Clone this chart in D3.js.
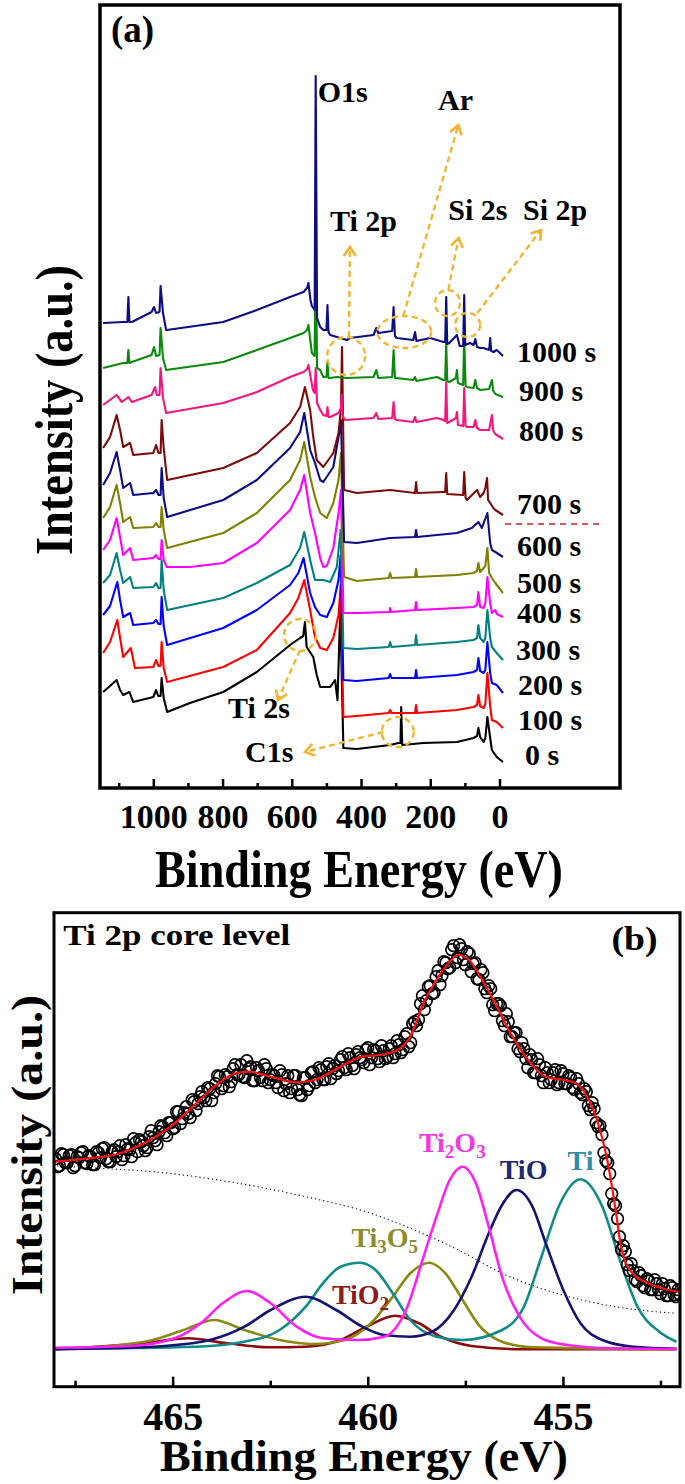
<!DOCTYPE html>
<html><head><meta charset="utf-8">
<script src="https://cdn.jsdelivr.net/npm/d3@7"></script>
<style>
body{margin:0;background:#fff}
text{font-family:"Liberation Serif","Times New Roman",Times,serif;font-weight:bold}
</style>
</head><body>
<svg id="c" width="685" height="1484"></svg>
<script>
// ================= DATA: panel (a) survey spectra, [binding energy eV, intensity a.u.] =================
const surveyTicksMajor = [1000, 800, 600, 400, 200, 0];
const surveyTicksMinor = [1100, 900, 700, 500, 300, 100];
const surveyLabels = ["0 s","100 s","200 s","300 s","400 s","500 s","600 s","700 s","800 s","900 s","1000 s"];

const spec0s = [[1145,96],[1125,102],[1106,108],[1096,98],[1087,93],[1069,96],[1058,86],[1000,91],[992,98],[986,92],[979,92],[976,110],[970,90],[960,76],[894,85],[798,96],[701,116],[605,143],[576,150],[567,152],[562,166],[557,141],[538,131],[528,113],[518,101],[489,101],[475,108],[468,88],[460,178],[451,40],[412,39],[316,43],[292,45],[286,45],[284,81],[281,43],[220,45],[123,46],[75,50],[65,52],[61,60],[56,51],[46,46],[41,50],[35,71],[27,50],[22,38],[8,31],[-10,26]];
const spec100s = [[1145,135],[1125,146],[1104,168],[1096,150],[1087,131],[1065,140],[1053,120],[1000,121],[992,128],[985,122],[979,122],[976,146],[970,120],[960,106],[798,121],[701,138],[605,175],[581,190],[564,208],[547,178],[533,151],[518,140],[499,138],[480,150],[465,173],[459,203],[451,71],[412,72],[320,75],[316,78],[312,75],[244,75],[241,83],[238,75],[123,78],[75,81],[65,83],[61,93],[56,82],[46,80],[41,84],[35,115],[27,82],[22,68],[8,66],[-10,60]];
const spec200s = [[1145,173],[1125,182],[1104,206],[1096,188],[1087,171],[1067,175],[1058,163],[1000,165],[992,168],[985,164],[979,164],[976,191],[970,162],[960,143],[798,160],[701,178],[605,203],[581,215],[566,230],[547,195],[533,181],[518,173],[499,171],[480,185],[465,208],[459,233],[451,108],[412,107],[320,110],[316,114],[312,110],[244,110],[241,118],[238,110],[123,113],[75,116],[65,118],[61,130],[56,117],[46,115],[41,118],[35,146],[27,115],[22,105],[8,103],[-10,95]];
const spec300s = [[1145,205],[1125,213],[1106,235],[1096,218],[1087,205],[1067,211],[1058,200],[1000,201],[992,205],[985,200],[979,200],[976,228],[970,198],[960,178],[798,190],[701,205],[605,223],[576,240],[564,256],[547,228],[533,208],[509,208],[489,206],[470,221],[459,258],[451,140],[412,139],[320,141],[316,146],[312,141],[244,143],[241,153],[238,143],[123,146],[75,148],[65,150],[61,163],[56,150],[46,146],[41,150],[35,178],[27,150],[22,141],[8,135],[-10,128]];
const spec400s = [[1145,238],[1125,248],[1106,270],[1096,251],[1087,233],[1067,240],[1058,228],[1000,230],[992,233],[985,229],[979,229],[976,248],[970,228],[961,221],[894,221],[798,225],[701,245],[605,278],[576,298],[564,313],[547,275],[533,255],[518,230],[509,221],[499,222],[480,240],[465,275],[458,298],[451,175],[412,175],[318,176],[316,180],[313,176],[244,178],[241,186],[238,178],[123,180],[75,181],[65,183],[61,196],[56,181],[46,180],[41,185],[35,211],[27,185],[22,175],[12,178],[8,174],[-10,171]];
const spec500s = [[1145,270],[1125,281],[1106,303],[1096,285],[1087,266],[1067,271],[1058,260],[1000,261],[992,265],[985,261],[979,261],[976,281],[970,258],[960,240],[798,255],[701,275],[605,308],[576,328],[564,346],[547,311],[533,291],[518,275],[499,270],[480,285],[465,308],[458,335],[449,211],[412,207],[320,210],[316,215],[312,210],[244,211],[241,219],[238,211],[123,213],[75,215],[65,217],[61,225],[56,216],[41,222],[35,240],[30,215],[22,210],[12,205],[-10,195]];
const spec600s = [[1145,303],[1125,315],[1106,336],[1096,318],[1087,300],[1067,305],[1058,293],[1000,295],[992,298],[985,293],[979,293],[976,320],[970,290],[960,271],[798,288],[701,308],[605,340],[576,356],[564,375],[547,338],[533,325],[518,308],[509,306],[480,321],[465,351],[458,368],[449,246],[412,245],[316,250],[244,251],[241,258],[238,251],[123,255],[80,260],[61,266],[51,260],[35,275],[27,245],[22,238],[12,236],[-10,231]];
const spec700s = [[1145,340],[1125,351],[1106,373],[1096,358],[1087,341],[1067,345],[1058,333],[1000,335],[992,343],[985,335],[979,335],[976,368],[970,340],[960,308],[798,320],[701,335],[605,365],[576,381],[562,401],[547,378],[538,351],[528,328],[509,321],[480,335],[465,355],[458,380],[455,441],[449,298],[412,295],[316,298],[244,295],[241,306],[238,295],[162,296],[157,296],[154,315],[151,294],[105,293],[102,316],[98,290],[94,288],[65,298],[56,291],[46,295],[41,300],[36,310],[33,288],[27,285],[18,280],[12,278],[-10,273]];
const spec800s = [[1145,383],[1106,393],[1091,386],[1072,391],[1062,386],[1005,393],[995,401],[990,393],[982,393],[979,420],[972,390],[963,375],[798,385],[701,396],[605,411],[566,416],[556,419],[552,423],[539,398],[534,395],[531,420],[527,385],[518,378],[509,373],[500,372],[497,381],[494,371],[489,371],[465,375],[458,380],[456,393],[453,372],[446,368],[364,370],[356,375],[350,369],[310,370],[306,386],[302,369],[297,368],[249,366],[244,371],[240,366],[181,370],[162,368],[157,367],[154,406],[151,365],[145,366],[126,370],[123,376],[120,363],[105,362],[102,400],[98,362],[94,361],[75,361],[70,368],[65,360],[56,358],[30,358],[22,373],[18,357],[12,354],[-10,349]];
const spec900s = [[1145,420],[1087,425],[1075,425],[1072,438],[1069,425],[1062,426],[1005,433],[998,441],[992,432],[982,433],[979,460],[972,430],[963,418],[798,426],[701,438],[605,450],[566,455],[556,458],[552,463],[542,435],[534,432],[531,548],[527,420],[518,418],[509,411],[500,411],[497,426],[494,410],[489,410],[470,411],[441,410],[364,411],[356,418],[350,410],[310,411],[306,438],[302,410],[299,410],[249,408],[244,411],[240,407],[181,411],[162,408],[157,408],[154,446],[151,407],[145,406],[126,410],[123,418],[120,405],[105,403],[102,451],[98,402],[94,401],[75,400],[70,408],[65,400],[56,398],[30,399],[22,408],[18,397],[12,394],[-10,391]];
const spec1000s = [[1145,465],[1087,466],[1075,466],[1072,491],[1069,466],[1062,466],[1005,476],[998,481],[992,475],[982,476],[979,502],[972,475],[963,458],[961,458],[798,466],[701,478],[605,491],[566,496],[556,500],[552,505],[546,488],[542,482],[534,478],[531,712],[527,470],[518,461],[509,458],[500,458],[497,483],[494,456],[489,453],[441,448],[432,450],[364,453],[356,460],[350,455],[310,457],[306,481],[302,452],[297,450],[249,448],[244,456],[240,447],[200,450],[162,446],[157,446],[154,491],[151,444],[145,445],[123,453],[115,442],[105,442],[102,493],[99,443],[85,445],[75,443],[70,449],[65,441],[56,440],[46,440],[30,438],[27,450],[24,437],[17,436],[8,438],[-10,432]];

// ================= DATA: panel (b) Ti 2p core level =================
const coreTicksMajor = [465, 460, 455];
const coreTicksMinor = [467.5, 462.5, 457.5, 452.5];
const ti2pMeasured = [[468.0,228],[467.9,221],[467.8,232],[467.7,224],[467.6,232],[467.5,221],[467.4,229],[467.3,235],[467.2,223],[467.1,230],[467.0,222],[466.9,234],[466.8,238],[466.7,228],[466.6,225],[466.5,237],[466.4,235],[466.3,227],[466.2,242],[466.1,237],[466.0,248],[465.9,235],[465.8,245],[465.7,236],[465.6,250],[465.5,249],[465.4,242],[465.3,261],[465.2,254],[465.1,264],[465.0,258],[464.9,275],[464.8,263],[464.7,274],[464.6,273],[464.5,287],[464.4,276],[464.3,290],[464.2,289],[464.1,299],[464.0,286],[463.9,303],[463.8,310],[463.7,301],[463.6,310],[463.5,305],[463.4,322],[463.3,312],[463.2,310],[463.1,326],[463.0,320],[462.9,306],[462.8,316],[462.7,306],[462.6,318],[462.5,307],[462.4,311],[462.3,299],[462.2,312],[462.1,303],[462.0,294],[461.9,311],[461.8,297],[461.7,291],[461.6,309],[461.5,301],[461.4,315],[461.3,307],[461.2,317],[461.1,307],[461.0,323],[460.9,318],[460.8,313],[460.7,327],[460.6,319],[460.5,333],[460.4,321],[460.3,332],[460.2,329],[460.1,324],[460.0,339],[459.9,329],[459.8,336],[459.7,325],[459.6,336],[459.5,330],[459.4,341],[459.3,333],[459.2,342],[459.1,337],[459.0,353],[458.9,344],[458.8,365],[458.7,367],[458.6,391],[458.5,386],[458.4,401],[458.3,394],[458.2,416],[458.1,411],[458.0,424],[457.9,419],[457.8,441],[457.7,429],[457.6,438],[457.5,422],[457.4,433],[457.3,423],[457.2,408],[457.1,417],[457.0,398],[456.9,401],[456.8,382],[456.7,383],[456.6,381],[456.5,361],[456.4,365],[456.3,350],[456.2,354],[456.1,335],[456.0,338],[455.9,319],[455.8,327],[455.7,314],[455.6,322],[455.5,304],[455.4,314],[455.3,307],[455.2,317],[455.1,304],[455.0,313],[454.9,303],[454.8,309],[454.7,297],[454.6,303],[454.5,292],[454.4,295],[454.3,277],[454.2,278],[454.1,260],[454.0,252],[453.9,226],[453.8,213],[453.7,183],[453.6,168],[453.5,137],[453.4,135],[453.3,116],[453.2,116],[453.1,105],[453.0,111],[452.9,99],[452.8,106],[452.7,97],[452.6,103],[452.5,93],[452.4,98],[452.3,91],[452.2,99],[452.1,90],[452.0,92]];
const ti2pMeasuredHalfSteps = [[467.95,220],[467.85,233],[467.75,224],[467.65,231],[467.55,219],[467.45,230],[467.35,234],[467.25,224],[467.15,231],[467.05,222],[466.95,235],[466.85,229],[466.75,239],[466.65,225],[466.55,235],[466.45,230],[466.35,241],[466.25,231],[466.15,238],[466.05,230],[465.95,244],[465.85,247],[465.75,241],[465.65,239],[465.55,256],[465.45,246],[465.35,255],[465.25,260],[465.15,251],[465.05,264],[464.95,259],[464.85,275],[464.75,268],[464.65,280],[464.55,269],[464.45,285],[464.35,283],[464.25,295],[464.15,286],[464.05,298],[463.95,294],[463.85,311],[463.75,298],[463.65,312],[463.55,300],[463.45,318],[463.35,312],[463.25,322],[463.15,309],[463.05,318],[462.95,306],[462.85,319],[462.75,309],[462.65,322],[462.55,304],[462.45,312],[462.35,304],[462.25,316],[462.15,296],[462.05,311],[461.95,298],[461.85,311],[461.75,292],[461.65,309],[461.55,297],[461.45,314],[461.35,304],[461.25,319],[461.15,307],[461.05,320],[460.95,308],[460.85,321],[460.75,316],[460.65,330],[460.55,317],[460.45,329],[460.35,318],[460.25,335],[460.15,327],[460.05,337],[459.95,322],[459.85,337],[459.75,328],[459.65,341],[459.55,328],[459.45,338],[459.35,329],[459.25,346],[459.15,334],[459.05,350],[458.95,340],[458.85,363],[458.75,361],[458.65,383],[458.55,377],[458.45,400],[458.35,393],[458.25,410],[458.15,402],[458.05,425],[457.95,418],[457.85,437],[457.75,424],[457.65,442],[457.55,427],[457.45,435],[457.35,415],[457.25,424],[457.15,407],[457.05,414],[456.95,394],[456.85,398],[456.75,376],[456.65,383],[456.55,366],[456.45,373],[456.35,350],[456.25,354],[456.15,338],[456.05,344],[455.95,328],[455.85,332],[455.75,314],[455.65,328],[455.55,311],[455.45,319],[455.35,304],[455.25,314],[455.15,302],[455.05,316],[454.95,303],[454.85,311],[454.75,299],[454.65,308],[454.55,294],[454.45,298],[454.35,281],[454.25,284],[454.15,264],[454.05,261],[453.95,234],[453.85,224],[453.75,193],[453.65,181],[453.55,150],[453.45,141],[453.35,122],[453.25,123],[453.15,107],[453.05,114],[452.95,101],[452.85,108],[452.75,97],[452.65,107],[452.55,97],[452.45,103],[452.35,91],[452.25,101],[452.15,92],[452.05,97]];
const fitEnvelope = [[468.02,225],[467.18,228.4],[466.51,231.7],[465.73,243.4],[464.95,263.4],[464.39,283.4],[463.83,303.4],[463.38,313.4],[463.05,315],[462.49,310],[461.82,304.4],[461.37,306.7],[460.70,320],[460.14,330],[459.69,331.7],[459.24,336.7],[458.91,350],[458.57,383.4],[458.24,406.7],[457.90,425],[457.68,431.7],[457.40,426.7],[457.12,410],[456.78,386.7],[456.34,353.4],[455.89,326.7],[455.44,310],[454.99,306.7],[454.66,303.4],[454.38,290],[454.10,263.4],[453.88,230],[453.75,201.7],[453.63,171.7],[453.52,141.7],[453.40,124.7],[453.17,111.7],[452.83,103.7],[452.40,97.7],[452.01,94.7]];
const compTi = [[468.02,37.7],[464.39,40],[463.16,45],[462.26,56.7],[461.59,80],[461.15,103.4],[460.70,120],[460.20,124],[459.80,116.7],[459.36,93.4],[458.91,66.7],[458.24,50],[457.57,46.7],[456.56,56.7],[456.00,80],[455.55,130],[455.11,180],[454.55,207.4],[453.99,180],[453.54,126.7],[453.09,80],[452.53,55],[452.09,45]];
const compTiO = [[468.02,37.4],[465.51,40],[464.05,46.7],[463.16,60],[462.49,76.7],[461.59,90],[460.81,76.7],[460.14,60],[459.58,51.7],[458.91,50],[458.35,55],[457.79,76.7],[457.34,110],[456.90,153.4],[456.56,181.7],[456.19,196.7],[455.78,180],[455.44,143.4],[454.99,96.7],[454.55,63.4],[453.99,46.7],[453.20,40],[452.09,38]];
const compTi2O3 = [[468.02,39],[466.07,40.7],[464.95,48.4],[464.28,63.4],[463.72,83.4],[463.10,95.7],[462.49,83.4],[461.82,60],[461.15,48.4],[460.25,46.7],[459.58,50],[459.02,76.7],[458.57,130],[458.24,170],[457.90,206.7],[457.57,220],[457.23,203.4],[456.90,160],[456.56,110],[456.11,70],[455.55,48.4],[454.88,41.7],[453.76,38.4],[452.09,37.7]];
const compTi3O5 = [[468.02,37.4],[466.63,40.7],[465.51,46.7],[464.72,56.7],[463.94,66.7],[463.16,56.7],[462.26,46.7],[461.37,42.7],[460.59,46.7],[459.92,63.4],[459.36,90],[458.91,113.4],[458.43,124],[458.01,113.4],[457.57,86.7],[457.12,60],[456.56,45],[455.78,39.4],[452.09,37.4]];
const compTiO2 = [[468.02,37.4],[467.18,39.4],[465.73,43.4],[464.61,48.4],[463.61,43.4],[462.49,39.4],[461.59,40],[460.70,46.7],[460.03,60],[459.30,71],[458.69,63.4],[458.13,50],[457.34,40.7],[456.00,37.4],[452.09,37.4]];
const backgroundLine = [[467.96,220.7],[466.85,218.4],[465.51,215],[463.83,206.7],[461.59,190],[459.92,173.4],[458.80,156.7],[457.68,136.7],[456.56,113.4],[455.44,96.7],[454.32,85],[453.20,77.4],[452.09,73.4]];

// ================= LAYOUT / STYLE =================
const svg = d3.select("#c");
const ANNO = "#f2b531";
const surveySeries = [
  {label:"0 s", data:spec0s, color:"#000000"},
  {label:"100 s", data:spec100s, color:"#ff0000"},
  {label:"200 s", data:spec200s, color:"#0000ff"},
  {label:"300 s", data:spec300s, color:"#008080"},
  {label:"400 s", data:spec400s, color:"#ff00ff"},
  {label:"500 s", data:spec500s, color:"#808000"},
  {label:"600 s", data:spec600s, color:"#0c0c84"},
  {label:"700 s", data:spec700s, color:"#7d0a0a"},
  {label:"800 s", data:spec800s, color:"#f5157f"},
  {label:"900 s", data:spec900s, color:"#0a8a0a"},
  {label:"1000 s", data:spec1000s, color:"#0c0c84"}
];
const surveyLabelXY = [[525,765],[518,730],[518,695],[516,660],[517,623],[517,593],[517,556],[517,514],[519,441],[519,401],[517,362]];

const defs = svg.append("defs");
defs.append("clipPath").attr("id","clipA").append("rect").attr("x",100).attr("y",5).attr("width",520).attr("height",783);
defs.append("clipPath").attr("id","clipB").append("rect").attr("x",54).attr("y",912.7).attr("width",626).attr("height",474);
const mk = defs.append("marker").attr("id","ah").attr("viewBox","-12 -8 14 16")
  .attr("refX",0).attr("refY",0).attr("markerWidth",14).attr("markerHeight",16)
  .attr("markerUnits","userSpaceOnUse").attr("orient","auto");
mk.append("path").attr("d","M-9,-6 L0,0 L-9,6").attr("fill","none").attr("stroke",ANNO).attr("stroke-width",2.6);

// ---------- Panel (a) ----------
const xA = d3.scaleLinear().domain([1154,-348]).range([100,620]);
const yA = d3.scaleLinear().domain([0,783]).range([788,5]);
const lineA = d3.line().x(d=>xA(d[0])).y(d=>yA(d[1]));
const gA = svg.append("g").attr("clip-path","url(#clipA)");
surveySeries.forEach(s=>{
  gA.append("path").datum(s.data).attr("d",lineA).attr("fill","none")
    .attr("stroke",s.color).attr("stroke-width",2.1).attr("stroke-linejoin","round");
});
const axA = svg.append("g").attr("transform","translate(0,788)")
  .call(d3.axisBottom(xA).tickValues(surveyTicksMajor).tickSizeInner(-9).tickSizeOuter(0).tickPadding(16).tickFormat(d3.format("d")));
axA.select(".domain").remove();
axA.selectAll("line").attr("stroke","#000").attr("stroke-width",2.5);
axA.selectAll("text").attr("font-size",34).attr("fill","#000").style("font-family",'"Liberation Serif","Times New Roman",serif').style("font-weight","bold");
const axAm = svg.append("g").attr("transform","translate(0,788)")
  .call(d3.axisBottom(xA).tickValues(surveyTicksMinor).tickSizeInner(-5).tickSizeOuter(0).tickFormat(""));
axAm.select(".domain").remove();
axAm.selectAll("line").attr("stroke","#000").attr("stroke-width",2.5);
svg.append("rect").attr("x",100).attr("y",5).attr("width",520).attr("height",783)
  .attr("fill","none").attr("stroke","#000").attr("stroke-width",3.5);

surveySeries.forEach((s,i)=>{
  svg.append("text").attr("x",surveyLabelXY[i][0]).attr("y",surveyLabelXY[i][1])
    .attr("font-size",30).attr("fill","#000").text(s.label);
});
svg.append("line").attr("x1",xA(-16)).attr("x2",xA(-296)).attr("y1",yA(264)).attr("y2",yA(264))
  .attr("stroke","#c8202a").attr("stroke-width",1.6).attr("stroke-dasharray","6,5");

const ellipses = [[443,432,19,19],[275,456,27,16],[150,485,12.5,13],[92,463,12.5,12],[576,153,16,16],[294,56,16,15]];
ellipses.forEach(e=>{
  svg.append("ellipse").attr("cx",xA(e[0])).attr("cy",yA(e[1])).attr("rx",e[2]).attr("ry",e[3])
    .attr("fill","none").attr("stroke",ANNO).attr("stroke-width",2.4).attr("stroke-dasharray","6,4");
});
const arrows = [[[435,451],[432,541]],[[278,472],[119,663]],[[148,498],[118,550]],[[64,475],[-120,558]],[[576,138],[640,88]],[[336,56],[562,36]]];
arrows.forEach(a=>{
  svg.append("line").attr("x1",xA(a[0][0])).attr("y1",yA(a[0][1])).attr("x2",xA(a[1][0])).attr("y2",yA(a[1][1]))
    .attr("stroke",ANNO).attr("stroke-width",2.4).attr("stroke-dasharray","6,4").attr("marker-end","url(#ah)");
});
const annoText = [["O1s",317.7,101.7],["Ar",438,110],["Ti 2p",330,230.7],["Si 2s",448.3,220],["Si 2p",523,220],["Ti 2s",228,718],["C1s",245,761.7]];
annoText.forEach(t=>{
  svg.append("text").attr("x",t[1]).attr("y",t[2]).attr("font-size",30).attr("fill","#000").text(t[0]);
});
svg.append("text").attr("x",111).attr("y",42).attr("font-size",37).attr("fill","#000").text("(a)");

svg.append("text").attr("x",359).attr("y",886.7).attr("text-anchor","middle").attr("font-size",53)
  .attr("textLength",408).attr("lengthAdjust","spacingAndGlyphs").text("Binding Energy (eV)");
svg.append("text").attr("transform","translate(72,410) rotate(-90)").attr("text-anchor","middle").attr("font-size",52)
  .attr("textLength",290).attr("lengthAdjust","spacingAndGlyphs").text("Intensity (a.u.)");

// ---------- Panel (b) ----------
const xB = d3.scaleLinear().domain([468.04,452.0]).range([54,680]);
const yB = d3.scaleLinear().domain([0,474]).range([1386.7,912.7]);
const lineB = d3.line().x(d=>xB(d[0])).y(d=>yB(d[1])).curve(d3.curveMonotoneX);
const gB = svg.append("g").attr("clip-path","url(#clipB)");
const comps = [
  {data:compTiO2, color:"#8b0a0a"},
  {data:compTi3O5, color:"#8a8a12"},
  {data:compTi, color:"#108a8a"},
  {data:compTiO, color:"#141470"},
  {data:compTi2O3, color:"#ff1ff0"}
];
gB.append("path").datum(backgroundLine).attr("d",lineB).attr("fill","none").attr("stroke","#000")
  .attr("stroke-width",1.1).attr("stroke-dasharray","1.2,3");
comps.forEach(c=>{
  gB.append("path").datum(c.data).attr("d",lineB).attr("fill","none").attr("stroke",c.color).attr("stroke-width",2.6);
});
const measuredAll = ti2pMeasured.concat(ti2pMeasuredHalfSteps);
gB.selectAll("circle.m").data(measuredAll).join("circle").attr("class","m")
  .attr("cx",d=>xB(d[0])).attr("cy",d=>yB(d[1])).attr("r",5.8)
  .attr("fill","none").attr("stroke","#000").attr("stroke-width",1.7);
gB.append("path").datum(fitEnvelope).attr("d",lineB).attr("fill","none").attr("stroke","#ff1010").attr("stroke-width",2.2);

const axB = svg.append("g").attr("transform","translate(0,1386.7)")
  .call(d3.axisBottom(xB).tickValues(coreTicksMajor).tickSizeInner(-10).tickSizeOuter(0).tickPadding(15).tickFormat(d3.format("d")));
axB.select(".domain").remove();
axB.selectAll("line").attr("stroke","#000").attr("stroke-width",2.5);
axB.selectAll("text").attr("font-size",40).attr("fill","#000").style("font-family",'"Liberation Serif","Times New Roman",serif').style("font-weight","bold");
const axBm = svg.append("g").attr("transform","translate(0,1386.7)")
  .call(d3.axisBottom(xB).tickValues(coreTicksMinor).tickSizeInner(-6).tickSizeOuter(0).tickFormat(""));
axBm.select(".domain").remove();
axBm.selectAll("line").attr("stroke","#000").attr("stroke-width",2.5);
svg.append("rect").attr("x",54).attr("y",912.7).attr("width",626).attr("height",474)
  .attr("fill","none").attr("stroke","#000").attr("stroke-width",3);

function chem(x, y, color, parts){
  const t = svg.append("text").attr("x",x).attr("y",y).attr("font-size",28).attr("fill",color);
  parts.forEach(p=>{
    if(p[1]) t.append("tspan").attr("font-size",19).attr("dy",6).text(p[0]);
    else t.append("tspan").attr("font-size",28).attr("dy",p[2]||0).text(p[0]);
  });
}
chem(xB(458.69), yB(235), "#ee3ade", [["Ti",false],["2",true],["O",false,-6],["3",true]]);
chem(xB(456.62), yB(207.4), "#1e2a6e", [["TiO",false]]);
chem(xB(454.88), yB(216.7), "#2f8ea6", [["Ti",false]]);
chem(xB(460.42), yB(139.4), "#8c8c30", [["Ti",false],["3",true],["O",false,-6],["5",true]]);
chem(xB(460.92), yB(82.7), "#8b1c1c", [["TiO",false],["2",true]]);

svg.append("text").attr("x",63.3).attr("y",945).attr("font-size",30).attr("textLength",227)
  .attr("lengthAdjust","spacingAndGlyphs").text("Ti 2p core level");
svg.append("text").attr("x",611.6).attr("y",950).attr("font-size",34).attr("textLength",46)
  .attr("lengthAdjust","spacingAndGlyphs").text("(b)");
svg.append("text").attr("x",364).attr("y",1471).attr("text-anchor","middle").attr("font-size",45)
  .attr("textLength",408).attr("lengthAdjust","spacingAndGlyphs").text("Binding Energy (eV)");
svg.append("text").attr("transform","translate(42,1145) rotate(-90)").attr("text-anchor","middle").attr("font-size",45)
  .attr("textLength",300).attr("lengthAdjust","spacingAndGlyphs").text("Intensity (a.u.)");
</script>
</body></html>
